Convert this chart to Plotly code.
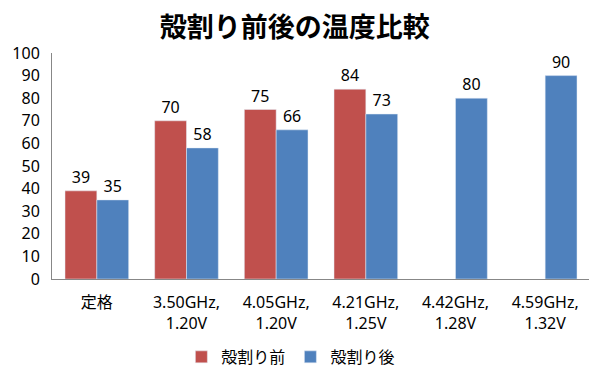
import plotly.graph_objects as go

categories = ["定格", "3.50GHz,<br>1.20V", "4.05GHz,<br>1.20V", "4.21GHz,<br>1.25V", "4.42GHz,<br>1.28V", "4.59GHz,<br>1.32V"]
before = [39, 70, 75, 84, None, None]
after = [35, 58, 66, 73, 80, 90]
y_ticks = list(range(0, 101, 10))

font_family = "Noto Sans, Noto Sans CJK JP"

fig = go.Figure()
fig.add_trace(go.Bar(name="殻割り前", x=categories, y=before, marker_color="#C0504D",
                     text=[str(v) if v is not None else "" for v in before], textposition="outside",
                     textfont=dict(size=16, color="#000000"), cliponaxis=False))
fig.add_trace(go.Bar(name="殻割り後", x=categories, y=after, marker_color="#4F81BD",
                     text=[str(v) for v in after], textposition="outside",
                     textfont=dict(size=16, color="#000000"), cliponaxis=False))

fig.update_layout(
    width=589, height=381,
    barmode="group", bargap=0.29, bargroupgap=0,
    paper_bgcolor="white", plot_bgcolor="white",
    margin=dict(l=44, r=7, t=45, b=110),
    font=dict(family=font_family, size=16, color="#000000"),
    title=dict(text="<b>殻割り前後の温度比較</b>", x=0.487, xanchor="center",
               y=0.95, yanchor="middle",
               font=dict(size=27, family="Noto Sans CJK JP", color="#000000")),
    legend=dict(orientation="h", x=0.444, xanchor="center", y=-0.345, yanchor="middle",
                font=dict(size=16, family="Noto Sans CJK JP"), itemwidth=30, traceorder="normal"),
    showlegend=True,
)
fig.update_yaxes(range=[0, 100], tickvals=y_ticks, showgrid=False, showline=True,
                 linecolor="#878787", linewidth=1, ticks="outside", ticklen=8, tickcolor="white",
                 zeroline=False, tickfont=dict(size=16), automargin=False)
fig.update_xaxes(showline=True, linecolor="#878787", linewidth=1, ticks="outside", ticklen=9,
                 tickcolor="white", tickfont=dict(size=16), automargin=False, tickangle=0)

fig.write_html("out.html")
